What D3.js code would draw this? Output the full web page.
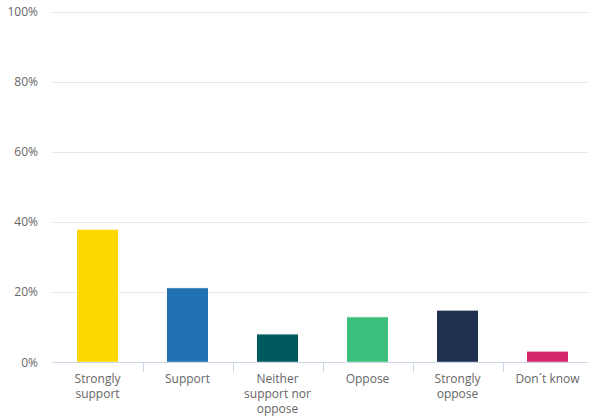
<!DOCTYPE html>
<html>
<head>
<meta charset="utf-8">
<script src="https://cdn.jsdelivr.net/npm/d3@7"></script>
<style>
  html, body { margin: 0; padding: 0; background: #fff; }
  svg { display: block; font-family: "Open Sans", "Noto Sans", sans-serif; }
</style>
</head>
<body>
<svg id="chart" width="589" height="418"></svg>
<script>
// Survey answers and their share of respondents (%)
const categories = [
  ["Strongly", "support"],
  ["Support"],
  ["Neither", "support nor", "oppose"],
  ["Oppose"],
  ["Strongly", "oppose"],
  ["Don´t know"]
];
const values = [38.0, 21.3, 8.1, 13.0, 14.9, 3.2];
const colors = ["#ffd700", "#2171b5", "#005a5d", "#3cbf7b", "#1f3050", "#d4266a"];
const yTicks = [0, 20, 40, 60, 80, 100];

const svg = d3.select("#chart");
const plotLeft = 52.5, plotRight = 592.5, plotTop = 12, plotBottom = 362.3;

const x = d3.scaleBand()
  .domain(d3.range(categories.length))
  .range([plotLeft, plotRight])
  .paddingInner(0).paddingOuter(0);

const y = d3.scaleLinear().domain([0, 100]).range([plotBottom, plotTop]);

// Horizontal gridlines
svg.append("g")
  .selectAll("line")
  .data(yTicks.filter(d => d > 0))
  .join("line")
  .attr("x1", plotLeft).attr("x2", 588)
  .attr("y1", d => Math.round(y(d)) + 0.5)
  .attr("y2", d => Math.round(y(d)) + 0.5)
  .attr("stroke", "#e6e6e6").attr("stroke-width", 1);

// Y axis labels
svg.append("g")
  .selectAll("text")
  .data(yTicks)
  .join("text")
  .attr("x", 38)
  .attr("y", d => y(d))
  .attr("dy", "0.35em")
  .attr("text-anchor", "end")
  .attr("font-size", 12)
  .attr("fill", "#666666")
  .text(d => d + "%");

// Bars
const barW = 42;
svg.append("g")
  .selectAll("rect")
  .data(values)
  .join("rect")
  .attr("x", (d, i) => x(i) + x.bandwidth() / 2 - barW / 2)
  .attr("width", barW)
  .attr("y", d => y(d))
  .attr("height", d => y(0) - y(d))
  .attr("fill", (d, i) => colors[i])
  .attr("stroke", "#ffffff").attr("stroke-width", 1);

// X axis baseline and category separators
svg.append("line")
  .attr("x1", plotLeft).attr("x2", 588)
  .attr("y1", Math.round(plotBottom) + 0.5).attr("y2", Math.round(plotBottom) + 0.5)
  .attr("stroke", "#ccd6eb");

svg.append("g")
  .selectAll("line")
  .data(d3.range(1, categories.length))
  .join("line")
  .attr("x1", i => Math.round(x(i)) + 0.5)
  .attr("x2", i => Math.round(x(i)) + 0.5)
  .attr("y1", Math.round(plotBottom))
  .attr("y2", Math.round(plotBottom) + 10)
  .attr("stroke", "#ccd6eb");

// Category labels (wrapped)
const labels = svg.append("g")
  .selectAll("text")
  .data(categories)
  .join("text")
  .attr("x", (d, i) => x(i) + x.bandwidth() / 2)
  .attr("y", 383)
  .attr("text-anchor", "middle")
  .attr("font-size", 12)
  .attr("fill", "#666666");

labels.selectAll("tspan")
  .data(d => d)
  .join("tspan")
  .attr("x", function () { return this.parentNode.getAttribute("x"); })
  .attr("dy", (d, i) => i === 0 ? 0 : 15)
  .text(d => d);
</script>
</body>
</html>
